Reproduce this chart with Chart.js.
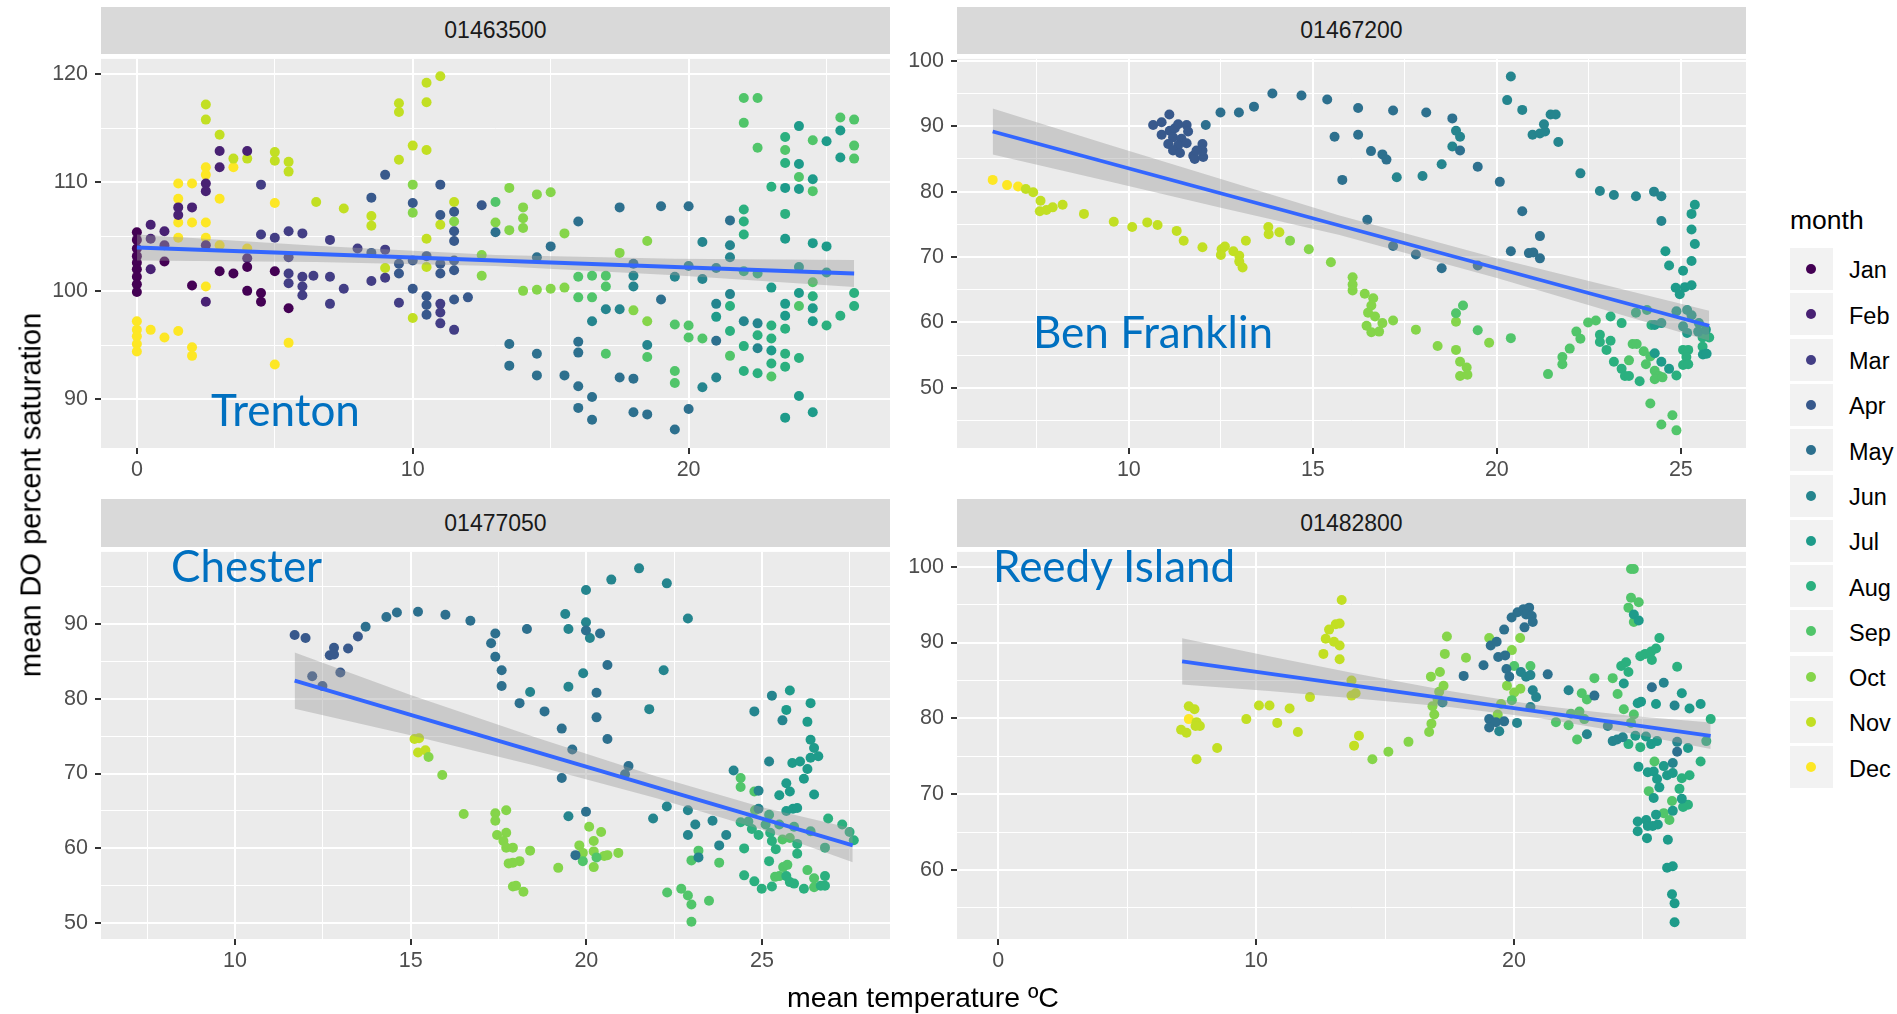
<!DOCTYPE html>
<html>
<head>
<meta charset="utf-8">
<script src="https://cdn.jsdelivr.net/npm/chart.js@4.4.1/dist/chart.umd.min.js"></script>
<style>
  body { margin: 0; background: #fff; font-family: "Liberation Sans", Arial, sans-serif; }
  #page { position: relative; width: 1897px; height: 1014px; overflow: hidden; background: #fff; }
  canvas { position: absolute; }
  .strip { position: absolute; background: #D9D9D9; color: #1A1A1A; font-size: 23px;
           display: flex; align-items: center; justify-content: center; }
  .site { position: absolute; font-family: Lato, sans-serif; font-size: 44px; color: #0070C0;
          line-height: 1; white-space: nowrap; z-index: 5; }
  .title { position: absolute; color: #000; line-height: 1; white-space: nowrap; }
  .key { position: absolute; left: 1790px; width: 43px; height: 42px; background: #F2F2F2; }
  .key i { position: absolute; left: 16px; top: 16px; width: 10px; height: 10px; border-radius: 50%; }
  .keylab { position: absolute; left: 1849px; font-size: 23.5px; line-height: 1; color: #000; }
</style>
</head>
<body>
<div id="page">
  <div class="strip" style="left:101px; top:7px; width:789px; height:47px;">01463500</div>
  <div class="strip" style="left:957px; top:7px; width:789px; height:47px;">01467200</div>
  <div class="strip" style="left:101px; top:499px; width:789px; height:48px;">01477050</div>
  <div class="strip" style="left:957px; top:499px; width:789px; height:48px;">01482800</div>

  <canvas id="trenton" width="874" height="454" style="left:31px; top:39px;"></canvas>
  <canvas id="franklin" width="874" height="454" style="left:887px; top:39px;"></canvas>
  <canvas id="chester" width="874" height="452" style="left:31px; top:532px;"></canvas>
  <canvas id="reedy" width="874" height="452" style="left:887px; top:532px;"></canvas>

  <div class="site" style="left:211px; top:387px;">Trenton</div>
  <div class="site" style="left:1033px; top:309px;">Ben Franklin</div>
  <div class="site" style="left:171px; top:543px;">Chester</div>
  <div class="site" style="left:993px; top:543px;">Reedy Island</div>

  <div class="title" style="left:31px; top:495px; font-size:29px; transform: translate(-50%,-50%) rotate(-90deg);">mean DO percent saturation</div>
  <div class="title" style="left:923px; top:983px; font-size:28.5px; transform: translateX(-50%);">mean temperature ºC</div>

  <div class="title" style="left:1790px; top:207px; font-size:26.5px;">month</div>
  <div id="legend"></div>
</div>

<script>
// month legend
const monthNames = ['Jan', 'Feb', 'Mar', 'Apr', 'May', 'Jun', 'Jul', 'Aug', 'Sep', 'Oct', 'Nov', 'Dec'];
const monthColors = ['#440154', '#482173', '#433E85', '#38598C', '#2D708E', '#25858E',
                     '#1E9B8A', '#2BB07F', '#51C56A', '#85D54A', '#C2DF23', '#FDE725'];

// Trenton (01463500): [temperature, DO %, month]
const trentonPts = [
  [0,105.4,1],[0,104.7,1],[0,103.9,1],[0,103.2,1],[0,102.6,1],[0,102.0,1],[0,101.3,1],[0,100.6,1],[0,99.9,1],
  [0,97.2,12],[0,96.4,12],[0,95.8,12],[0,95.1,12],[0,94.4,12],
  [0.5,106.1,2],[0.5,104.8,2],[0.5,102.0,2],[0.5,96.4,12],
  [1,105.5,2],[1,104.2,2],[1,102.7,1],[1,95.7,12],
  [1.5,107.7,2],[1.5,107.0,2],[1.5,109.9,12],[1.5,108.5,12],[1.5,106.3,12],[1.5,104.9,12],[1.5,96.3,12],
  [2,107.7,2],[2,109.9,12],[2,106.3,12],[2,100.5,1],[2,94.8,12],[2,94.0,12],
  [2.5,117.2,11],[2.5,115.8,11],[2.5,111.4,12],[2.5,110.7,12],[2.5,109.9,2],[2.5,109.2,2],[2.5,106.3,12],
  [2.5,104.9,12],[2.5,104.2,2],[2.5,100.4,12],[2.5,99.0,2],
  [3,114.4,11],[3,112.9,2],[3,111.4,2],[3,108.5,12],[3,104.2,12],[3,101.8,1],
  [3.5,112.2,11],[3.5,111.4,12],[3.5,101.6,1],
  [4,112.9,2],[4,112.2,11],[4,103.9,12],[4,103.0,2],[4,102.2,1],[4,100.0,1],
  [4.5,109.8,3],[4.5,105.2,3],[4.5,99.8,1],[4.5,99.0,1],
  [5,112.8,11],[5,112.0,11],[5,108.1,12],[5,104.9,3],[5,101.8,1],[5,93.2,12],
  [5.5,111.9,11],[5.5,111.0,11],[5.5,105.5,3],[5.5,103.1,3],[5.5,101.6,3],[5.5,100.7,3],[5.5,98.4,1],[5.5,95.2,12],
  [6,105.3,3],[6,101.3,3],[6,100.4,3],[6,99.6,3],[6.4,101.4,3],[6.5,108.2,11],
  [7,104.7,3],[7,101.3,3],[7,98.8,3],[7.5,107.6,11],[7.5,100.2,3],[8,103.9,3],
  [8.5,108.6,4],[8.5,106.9,11],[8.5,106.0,11],[8.5,103.5,4],[8.5,100.9,3],
  [9,110.7,4],[9,103.8,3],[9,102.1,11],[9,101.2,3],
  [9.5,117.3,11],[9.5,116.5,11],[9.5,112.1,11],[9.5,102.5,4],[9.5,101.6,4],[9.5,98.9,3],
  [10,113.4,11],[10,109.8,10],[10,108.1,4],[10,107.2,10],[10,102.8,4],[10,100.2,4],[10,97.5,11],
  [10.5,119.2,11],[10.5,117.4,11],[10.5,113.0,11],[10.5,104.8,11],[10.5,102.2,11],[10.5,103.2,4],
  [10.5,99.5,4],[10.5,98.7,4],[10.5,97.8,4],
  [11,119.8,11],[11,109.8,4],[11,107.0,4],[11,106.1,11],[11,102.5,4],[11,101.6,4],[11,98.8,3],[11,98.0,3],[11,97.0,3],
  [11.5,108.2,11],[11.5,107.3,4],[11.5,106.4,10],[11.5,105.5,4],[11.5,104.6,4],[11.5,102.8,4],[11.5,101.9,4],
  [11.5,99.2,4],[11.5,96.4,3],
  [12,99.4,4],[12.5,107.9,4],[12.5,103.3,10],[12.5,101.4,10],
  [13,108.2,9],[13,106.3,10],[13,105.4,5],
  [13.5,109.5,10],[13.5,105.6,10],[13.5,95.1,5],[13.5,93.1,5],
  [14,107.7,10],[14,106.7,10],[14,105.8,10],[14,100.0,10],
  [14.5,108.9,10],[14.5,103.1,5],[14.5,100.1,10],[14.5,94.2,5],[14.5,92.2,5],
  [15,109.1,10],[15,104.1,5],[15,100.2,10],
  [15.5,105.3,10],[15.5,100.3,10],[15.5,92.2,5],
  [16,106.4,5],[16,101.3,9],[16,99.4,9],[16,95.3,5],[16,94.3,5],[16,91.2,5],[16,89.2,5],
  [16.5,101.4,9],[16.5,99.4,9],[16.5,97.2,6],[16.5,90.2,5],[16.5,88.1,5],
  [17,101.4,9],[17,100.4,9],[17,98.3,6],[17,94.2,9],
  [17.5,107.7,5],[17.5,103.5,10],[17.5,98.3,6],[17.5,92.0,5],
  [18,102.5,5],[18,101.4,6],[18,100.4,6],[18,98.2,10],[18,91.9,5],[18,88.8,5],
  [18.5,104.6,10],[18.5,97.2,10],[18.5,95.0,6],[18.5,93.9,9],[18.5,88.6,5],
  [19,107.8,5],[19,99.2,5],
  [19.5,101.3,6],[19.5,96.9,9],[19.5,92.6,9],[19.5,91.5,9],[19.5,87.2,5],
  [20,107.8,5],[20,102.3,6],[20,96.8,9],[20,95.7,9],[20,89.1,5],
  [20.5,104.5,6],[20.5,101.1,6],[20.5,95.6,9],[20.5,91.1,6],
  [21,102.1,6],[21,98.8,6],[21,97.6,7],[21,95.4,5],[21,92.0,6],
  [21.5,106.5,5],[21.5,104.2,6],[21.5,103.1,6],[21.5,99.7,6],[21.5,98.6,8],[21.5,96.3,8],[21.5,94.0,9],
  [22,117.8,9],[22,115.5,9],[22,107.5,8],[22,106.4,8],[22,105.2,8],[22,101.8,8],[22,97.2,6],[22,94.9,8],[22,92.6,8],
  [22.5,117.8,9],[22.5,113.2,9],[22.5,101.6,8],[22.5,97.0,6],[22.5,95.9,8],[22.5,94.7,6],[22.5,92.4,8],
  [23,109.6,8],[23,100.3,7],[23,96.8,8],[23,95.6,8],[23,94.5,7],[23,93.3,8],[23,92.1,9],
  [23.5,114.2,8],[23.5,113.0,9],[23.5,111.8,8],[23.5,109.5,7],[23.5,107.1,8],[23.5,104.8,7],[23.5,98.8,7],
  [23.5,97.7,7],[23.5,96.5,8],[23.5,94.2,8],[23.5,93.0,8],[23.5,88.3,7],
  [24,115.2,7],[24,111.7,7],[24,110.5,9],[24,109.4,7],[24,102.2,7],[24,99.8,7],[24,98.6,9],[24,93.8,8],[24,90.3,7],
  [24.5,113.9,9],[24.5,110.3,7],[24.5,109.2,9],[24.5,104.4,7],[24.5,100.8,9],[24.5,99.5,8],[24.5,98.4,7],
  [24.5,97.2,7],[24.5,88.8,7],
  [25,113.8,7],[25,104.1,7],[25,101.7,7],[25,96.8,8],
  [25.5,116.0,9],[25.5,114.8,7],[25.5,112.3,7],[25.5,97.7,8],
  [26,115.8,9],[26,113.4,9],[26,112.2,9],[26,99.8,8],[26,98.6,8]
];

// Ben Franklin (01467200)
const franklinPts = [
  [6.3,81.8,12],[6.69,81.0,12],[6.99,80.8,12],[7.2,80.4,11],[7.4,79.9,11],[7.6,78.6,11],[7.58,77.0,11],
  [7.76,77.2,11],[7.93,77.6,11],[8.2,78.0,11],[8.78,76.6,11],[9.59,75.4,11],[10.09,74.6,11],[10.5,75.3,11],
  [10.78,74.9,11],[11.3,74.0,11],[11.49,72.5,11],[12.0,71.5,11],[12.52,71.2,11],[12.5,70.3,11],[12.61,71.6,11],
  [12.84,70.9,11],[13.0,70.2,11],[13.0,69.3,11],[13.09,68.4,11],[13.18,72.5,11],[13.79,74.6,11],[13.8,73.5,11],
  [14.09,73.8,11],[14.38,72.5,10],[14.89,71.2,10],[15.49,69.2,10],[16.08,66.9,10],[16.08,65.8,10],[16.08,64.9,10],
  [10.66,90.2,4],[10.89,90.6,4],[11.1,91.8,4],[10.89,88.7,4],[11.11,89.3,4],[11.25,89.7,4],[11.34,90.3,4],
  [11.57,90.2,4],[11.61,89.2,4],[11.2,88.3,4],[11.43,88.1,4],[11.07,87.3,4],[11.34,87.1,4],[11.57,87.4,4],
  [11.2,86.3,4],[11.39,85.9,4],[11.75,85.5,4],[11.79,85.0,4],[12.02,85.3,4],[12.0,87.3,4],[12.0,86.3,4],[11.84,86.3,4],
  [12.09,90.2,5],[12.49,92.1,5],[12.99,92.1,5],[13.4,93.0,5],[13.9,95.0,5],[14.69,94.7,5],[15.39,94.1,5],
  [16.23,92.8,5],[15.59,88.4,5],[16.23,88.7,5],[15.8,81.8,5],
  [17.18,92.4,5],[18.08,92.1,5],[18.79,91.2,5],[18.89,89.3,6],[19.0,88.4,6],[18.79,86.9,6],[19.0,86.3,5],
  [16.58,86.2,5],[16.89,85.7,5],[17.0,84.9,5],[17.28,82.2,6],[17.98,82.4,6],[18.5,84.2,6],[19.48,83.8,5],[20.08,81.5,5],
  [20.38,97.6,6],[20.28,94.0,6],[20.69,92.5,6],[20.97,88.7,6],[21.17,88.9,6],[21.31,89.2,6],[21.28,90.3,6],
  [21.46,91.8,6],[21.6,91.8,6],[21.67,87.6,6],[22.27,82.8,6],[22.8,80.1,6],[23.18,79.5,6],[23.78,79.3,6],
  [24.27,80.0,6],[24.47,79.3,6],[24.47,75.5,6],[24.58,70.9,7],[24.68,68.7,7],[25.06,67.9,7],[24.86,65.3,7],
  [24.97,64.3,7],[25.11,65.4,7],[25.29,65.7,7],[25.38,78.0,7],[25.29,76.6,7],[25.29,74.2,7],[25.38,72.0,7],[25.29,69.4,7],
  [20.69,77.0,5],[21.17,73.2,5],[20.38,70.9,5],[20.87,70.6,5],[20.99,70.7,5],[21.17,69.8,5],[16.48,75.7,5],
  [17.18,71.7,5],[17.8,70.4,5],[18.5,68.3,5],[19.48,68.7,5],
  [16.41,64.4,10],[16.64,63.7,10],[16.59,62.6,10],[16.5,61.5,10],[16.69,60.9,10],[16.89,59.9,10],[16.46,59.5,10],
  [16.59,58.5,10],[16.8,58.6,10],[17.18,60.3,10],[17.8,58.9,10],[18.39,56.4,10],[18.89,61.4,9],[19.08,62.6,9],
  [18.89,60.1,10],[18.89,55.8,10],[19.0,54.0,10],[19.18,53.1,10],[19.0,51.8,10],[19.2,52.0,10],[19.48,58.8,9],
  [19.79,56.9,10],[20.38,57.6,9],
  [21.39,52.1,9],[21.78,54.7,9],[21.78,53.6,9],[21.98,56.0,9],[22.16,58.6,9],[22.27,57.5,9],[22.48,60.0,9],
  [22.69,60.3,9],[22.8,58.1,8],[22.8,57.0,8],[22.98,55.8,8],[23.09,60.9,8],[23.09,57.2,8],[23.39,59.9,8],
  [23.18,54.0,8],[23.39,52.9,8],[23.48,51.8,8],[23.59,51.8,8],[23.59,54.2,9],[23.69,56.7,9],[23.8,56.7,9],
  [23.78,61.5,8],[23.88,51.0,8],[23.99,55.6,9],[24.08,61.9,8],[24.17,54.8,9],[24.29,55.3,7],[24.2,59.6,8],
  [24.29,59.6,7],[24.47,59.9,7],[24.05,53.6,9],[24.29,52.6,9],[24.41,51.8,9],[24.29,51.3,9],[24.5,51.6,9],
  [24.47,54.0,7],[24.68,52.9,7],[24.88,51.9,8],[24.17,47.6,9],[24.47,44.4,9],[24.77,45.8,9],[24.88,43.5,9],
  [24.88,61.7,7],[25.17,61.9,7],[25.29,61.1,7],[25.06,59.4,7],[25.17,58.4,7],[25.47,58.6,7],[25.59,57.7,8],
  [25.77,57.7,8],[25.06,55.8,8],[25.2,55.8,8],[25.15,54.7,8],[25.06,53.5,8],[25.2,53.6,8],[25.59,56.3,8],
  [25.6,55.1,7],[25.7,55.2,7],[25.68,58.9,7],[25.49,59.9,7]
];

// Chester (01477050)
const chesterPts = [
  [11.7,88.5,4],[12.01,88.1,4],[12.2,83.0,4],[12.49,81.7,4],[12.7,85.8,4],[12.82,86.8,4],[12.82,85.9,4],
  [13.0,83.5,4],[13.22,86.7,4],[13.5,88.3,4],[13.72,89.6,5],[14.31,90.9,5],[14.61,91.5,5],[15.21,91.6,5],
  [15.99,91.2,5],[16.7,90.4,5],[17.41,88.7,5],[17.29,87.4,5],[17.41,85.6,5],[17.59,83.8,5],[17.59,81.7,5],
  [15.11,74.6,11],[15.24,74.7,11],[15.21,72.8,11],[15.42,73.1,11],[15.51,72.2,10],[15.9,69.8,10],[16.51,64.6,10],
  [17.41,64.7,10],[17.41,63.7,10],[17.46,61.8,10],[17.72,65.1,10],[17.72,62.1,10],[17.64,61.0,10],[17.72,60.1,10],
  [17.91,60.1,10],[17.79,58.0,10],[18.1,58.3,10],[17.91,58.1,10],[17.91,54.9,10],[18.0,55.0,10],[18.21,54.2,10],
  [18.4,59.7,10],
  [18.31,89.3,5],[18.4,80.9,6],[18.1,79.4,5],[18.81,78.3,5],[19.4,91.3,6],[19.49,89.3,6],[19.49,81.6,6],
  [19.3,76.0,5],[19.6,73.2,5],[19.3,69.4,5],[19.49,64.3,6],[19.99,94.5,6],[19.99,90.2,6],[19.99,89.1,5],
  [20.1,88.1,6],[20.39,88.7,5],[19.91,83.4,6],[20.29,80.8,5],[20.29,77.5,5],[20.6,84.5,5],[20.6,74.6,5],
  [20.71,95.9,6],[21.5,97.4,6],[22.29,95.4,6],[22.89,90.7,6],[22.2,83.8,6],[21.79,78.6,6],[21.2,71.0,5],
  [21.1,69.9,5],[19.99,64.9,5],[19.69,59.1,5],
  [19.8,60.4,10],[19.9,59.4,10],[19.9,58.3,9],[20.08,62.9,10],[20.21,61.0,10],[20.21,59.6,10],[20.21,57.5,10],
  [20.42,62.2,10],[20.29,58.8,9],[20.51,59.0,10],[20.6,59.1,10],[20.91,59.4,10],[19.2,57.4,10],
  [21.9,64.0,6],[22.29,65.6,6],[22.89,65.1,6],[22.89,61.8,6],[23.1,63.2,6],[23.19,58.8,6],[22.99,58.4,9],
  [23.19,59.7,9],[23.59,63.7,6],[23.78,60.4,6],[23.98,61.8,6],[23.78,58.1,9],[22.3,54.1,9],[22.7,54.6,9],
  [22.89,53.7,9],[22.99,52.5,9],[22.99,50.2,9],[23.49,53.0,9],
  [24.19,70.4,6],[24.39,69.4,9],[24.39,68.2,9],[24.78,67.6,9],[24.9,67.7,6],[24.78,78.3,6],[25.28,80.4,6],
  [25.79,81.1,7],[25.69,78.5,7],[25.58,77.1,6],[26.38,79.4,7],[26.29,76.9,7],[26.38,74.5,7],[26.48,73.4,7],
  [26.38,72.1,7],[26.6,72.3,7],[25.86,71.4,7],[26.08,71.6,7],[26.29,70.6,7],[26.19,69.3,7],[25.2,71.6,6],
  [25.69,68.7,7],[25.79,67.6,7],[25.49,67.1,7],[26.48,67.2,7],[25.69,65.0,7],[25.88,65.3,7],[26.0,65.4,7],
  [24.9,65.3,6],[24.39,63.5,8],[24.61,63.6,8],[24.8,65.1,9],[25.2,64.5,8],[25.1,63.2,8],[24.71,62.6,8],
  [24.9,61.8,8],[25.23,62.1,8],[25.28,61.0,8],[25.39,59.9,8],[25.58,61.2,9],[25.79,61.4,9],[25.91,62.9,8],
  [26.0,60.6,8],[26.0,59.3,8],[25.49,63.2,8],[24.49,60.0,8],[25.2,58.3,8],[25.6,57.5,9],[25.72,57.8,9],
  [25.69,56.3,8],[25.79,55.5,8],[25.91,55.3,8],[25.37,56.2,9],[25.49,56.3,9],[24.49,56.4,8],[24.78,55.6,8],
  [24.99,54.6,8],[25.28,54.9,8],[26.19,54.6,8],[26.29,57.1,9],[26.48,56.0,9],[26.48,54.8,9],[26.79,56.3,8],
  [26.79,55.0,8],[26.67,55.0,8],[26.88,64.0,8],[27.28,63.2,8],[27.49,62.2,8],[27.61,61.1,8],[26.79,60.1,8],
  [26.38,62.3,8]
];

// Reedy Island (01482800)
const reedyPts = [
  [7.39,81.6,11],[7.61,81.2,11],[7.39,79.9,12],[7.69,79.5,11],[7.82,79.0,11],[7.65,79.0,11],[7.09,78.5,11],
  [7.3,78.1,11],[8.49,76.1,11],[7.69,74.6,11],[9.62,79.9,11],[10.11,81.7,11],[10.52,81.7,11],[10.82,79.4,11],
  [11.3,81.3,11],[11.62,78.2,11],[12.09,82.8,11],[12.61,88.5,11],[12.7,90.5,11],[12.83,91.7,11],[13.09,92.4,11],
  [13.24,92.5,11],[13.02,90.1,11],[13.24,89.6,11],[13.24,87.8,11],[13.32,95.6,11],[13.7,85.0,11],[13.7,83.0,11],
  [13.86,83.3,11],[13.99,77.7,11],[13.8,76.4,11],
  [14.51,74.6,10],[15.13,75.6,10],[15.91,76.9,10],[16.71,78.2,10],[16.8,79.3,10],[16.91,80.5,10],[16.84,81.6,10],
  [17.04,82.5,10],[17.1,83.5,10],[17.27,84.3,10],[16.78,85.5,10],[17.13,86.1,10],[17.32,88.5,10],[17.4,90.8,10],
  [18.14,88.0,10],[18.05,85.6,5],[17.23,82.1,6],[18.82,87.0,5],[19.04,90.6,10],[19.1,89.6,5],[19.33,90.1,5],
  [19.62,91.7,5],[19.39,88.1,5],[19.66,88.3,5],[19.71,86.5,5],[19.82,85.5,5],[19.92,89.0,10],[19.73,84.3,10],
  [20.01,83.4,10],[19.92,82.4,9],[20.25,83.9,10],[20.24,90.6,10],
  [19.91,93.3,5],[20.14,94.0,5],[20.37,94.4,5],[20.59,94.6,5],[20.47,93.7,5],[20.69,93.5,5],[20.73,92.7,5],[20.41,92.0,5],
  [20.01,86.9,9],[20.27,86.1,6],[20.47,85.5,6],[20.64,86.9,9],[20.64,85.7,6],[20.73,83.7,6],[20.86,82.8,6],
  [20.64,81.5,6],[21.31,85.8,5],
  [19.04,79.9,5],[19.3,79.5,5],[19.62,79.6,5],[19.04,78.8,5],[19.43,78.3,6],[20.12,79.4,6],[19.37,80.5,10],[19.5,81.9,10],
  [21.63,79.5,9],[22.12,83.7,6],[22.12,79.1,9],[22.63,83.3,9],[22.83,82.5,9],[23.12,85.3,9],[23.12,83.0,5],
  [22.45,77.2,9],[22.83,77.9,6],[22.21,80.6,9],[22.54,80.9,9],[22.73,79.9,9],[23.64,79.0,6],[23.83,77.0,6],
  [24.0,77.2,6],[24.22,77.5,6],[23.83,85.3,9],[24.02,83.2,9],[24.26,84.6,7],[24.26,81.2,9],[24.16,86.9,8],
  [24.35,87.4,8],[24.44,86.1,8],[24.44,76.6,8],
  [24.54,99.7,9],[24.65,99.7,9],[24.54,95.9,9],[24.84,95.3,9],[24.44,94.6,9],[24.65,93.7,7],[24.84,92.9,7],
  [24.65,92.7,9],[24.65,80.5,9],[24.54,79.4,9],[24.8,82.0,7],[24.93,82.2,7],
  [24.9,88.2,8],[25.09,88.5,8],[25.32,88.8,8],[25.51,89.2,8],[25.64,90.6,8],[25.35,87.7,8],[25.35,84.1,5],
  [25.81,84.7,6],[25.51,81.9,7],[26.33,86.8,8],[26.51,83.3,7],[26.23,81.7,6],[26.81,81.3,7],[27.24,81.9,7],
  [27.63,79.9,8],[27.46,77.0,8],[26.75,76.1,7],[26.33,76.9,6],[26.33,75.6,5],
  [24.71,77.7,7],[24.9,76.2,8],[25.12,77.6,7],[25.32,76.6,7],[25.55,77.0,7],[27.24,74.3,8],[25.45,74.3,9],
  [24.83,73.6,7],[25.19,72.9,7],[25.42,73.0,7],[25.55,72.0,7],[25.64,70.9,7],[25.81,73.7,7],[25.94,72.5,7],
  [26.16,72.8,7],[26.16,74.1,6],[26.51,72.1,8],[26.81,72.5,8],[26.42,70.7,8],[26.51,69.4,7],[26.75,68.6,8],
  [26.56,68.3,8],[25.23,70.4,9],[25.42,69.5,7],[26.13,69.1,9],[26.16,67.8,7],[25.81,67.5,9],[26.03,66.6,9],
  [24.8,66.4,7],[24.8,65.1,7],[25.13,66.6,7],[25.19,65.8,7],[25.51,67.3,7],[25.58,66.0,7],[25.16,64.2,7],
  [25.38,65.8,7],[25.97,64.0,7],[25.94,60.3,7],[26.16,60.5,7],[26.13,56.8,7],[26.23,55.6,7],[26.23,53.1,7]
];

// linear fits and their confidence bands
const trentonFitX = [0, 26];
const trentonFitY = [104.0, 101.6];
const trentonBandX = [0, 6.5, 13, 19.5, 26];
const trentonBandLo = [102.8, 102.65, 102.3, 101.45, 100.35];
const trentonBandHi = [105.2, 104.15, 103.3, 102.95, 102.85];

const franklinFitX = [6.3, 25.77];
const franklinFitY = [89.2, 59.5];
const franklinBandX = [6.3, 9.5, 12.5, 15.7, 20, 25.77];
const franklinBandLo = [85.7, 81.5, 77.55, 73.4, 66.8, 57.2];
const franklinBandHi = [92.7, 87.1, 81.95, 76.4, 69.8, 61.8];

const chesterFitX = [11.7, 27.58];
const chesterFitY = [82.4, 60.4];
const chesterBandX = [11.7, 15, 18.5, 22, 25, 27.58];
const chesterBandLo = [78.65, 75.1, 71.1, 66.7, 62.5, 58.15];
const chesterBandHi = [86.15, 80.5, 74.9, 69.6, 65.5, 62.65];

const reedyFitX = [7.13, 27.63];
const reedyFitY = [87.5, 77.7];
const reedyBandX = [7.13, 10.5, 14, 17.5, 21, 24.5, 27.63];
const reedyBandLo = [84.45, 83.6, 82.6, 81.5, 80.0, 78.05, 75.95];
const reedyBandHi = [90.55, 88.2, 85.8, 83.6, 81.7, 80.35, 79.45];

// axis ranges and ticks
const trentonXRange = [-1.3, 27.3], trentonYRange = [85.5, 121.4];
const trentonXMajor = [0, 10, 20], trentonXMinor = [5, 15, 25];
const trentonYMajor = [90, 100, 110, 120], trentonYMinor = [95, 105, 115];

const franklinXRange = [5.33, 26.77], franklinYRange = [40.8, 100.3];
const franklinXMajor = [10, 15, 20, 25], franklinXMinor = [7.5, 12.5, 17.5, 22.5];
const franklinYMajor = [50, 60, 70, 80, 90, 100], franklinYMinor = [45, 55, 65, 75, 85, 95];

const chesterXRange = [6.19, 28.64], chesterYRange = [47.9, 99.6];
const chesterXMajor = [10, 15, 20, 25], chesterXMinor = [7.5, 12.5, 17.5, 22.5, 27.5];
const chesterYMajor = [50, 60, 70, 80, 90], chesterYMinor = [55, 65, 75, 85, 95];

const reedyXRange = [-1.6, 29.0], reedyYRange = [50.9, 101.95];
const reedyXMajor = [0, 10, 20], reedyXMinor = [5, 15, 25];
const reedyYMajor = [60, 70, 80, 90, 100], reedyYMinor = [55, 65, 75, 85, 95];

// legend keys
const legendEl = document.getElementById('legend');
monthNames.forEach((name, i) => {
  const top = 248 + i * 45.3;
  const key = document.createElement('div');
  key.className = 'key';
  key.style.top = top + 'px';
  key.innerHTML = '<i style="background:' + monthColors[i] + '"></i>';
  legendEl.appendChild(key);
  const lab = document.createElement('div');
  lab.className = 'keylab';
  lab.style.top = (top + 11.4) + 'px';
  lab.textContent = name;
  legendEl.appendChild(lab);
});

const panelBg = {
  id: 'panelBg',
  beforeDraw(chart) {
    const a = chart.chartArea;
    const ctx = chart.ctx;
    ctx.save();
    ctx.fillStyle = '#EBEBEB';
    ctx.fillRect(a.left, a.top, a.right - a.left, a.bottom - a.top);
    ctx.restore();
  }
};

function makeAxis(range, major, minor, isX) {
  const all = major.concat(minor).sort((a, b) => a - b);
  return {
    type: 'linear',
    position: isX ? 'bottom' : 'left',
    min: range[0],
    max: range[1],
    afterBuildTicks: scale => { scale.ticks = all.map(v => ({ value: v })); },
    afterFit: scale => { if (isX) scale.height = 45; else scale.width = 70; },
    border: { display: false },
    grid: {
      color: '#FFFFFF',
      lineWidth: c => major.includes(c.tick.value) ? 2 : 1,
      tickColor: c => major.includes(c.tick.value) ? '#333333' : 'rgba(0,0,0,0)',
      tickLength: 6,
      tickWidth: 2
    },
    ticks: {
      autoSkip: false,
      maxRotation: 0,
      padding: isX ? 3 : 7,
      color: '#4D4D4D',
      font: { family: 'Liberation Sans', size: 21.5 },
      callback: v => major.includes(v) ? String(v) : ''
    }
  };
}

function makePanel(id, pts, fitX, fitY, bandX, bandLo, bandHi, xRange, yRange, xMajor, xMinor, yMajor, yMinor) {
  const pointSets = monthNames.map((name, i) => ({
    type: 'scatter',
    label: name,
    data: pts.filter(p => p[2] === i + 1).map(p => ({ x: p[0], y: p[1] })),
    backgroundColor: monthColors[i],
    borderWidth: 0,
    pointRadius: 5,
    pointHoverRadius: 5,
    order: 3
  }));
  const band = [
    {
      type: 'line', label: 'upper',
      data: bandX.map((x, i) => ({ x: x, y: bandHi[i] })),
      fill: '+1', backgroundColor: 'rgba(153,153,153,0.4)',
      borderWidth: 0, pointRadius: 0, tension: 0, order: 2
    },
    {
      type: 'line', label: 'lower',
      data: bandX.map((x, i) => ({ x: x, y: bandLo[i] })),
      fill: false, borderWidth: 0, pointRadius: 0, tension: 0, order: 2
    },
    {
      type: 'line', label: 'fit',
      data: fitX.map((x, i) => ({ x: x, y: fitY[i] })),
      borderColor: '#3366FF', borderWidth: 3.8, pointRadius: 0, fill: false, tension: 0, order: 1
    }
  ];

  new Chart(document.getElementById(id), {
    type: 'scatter',
    data: { datasets: pointSets.concat(band) },
    options: {
      responsive: false,
      animation: false,
      events: [],
      layout: { padding: { top: 15, right: 15, left: 0, bottom: 0 } },
      scales: {
        x: makeAxis(xRange, xMajor, xMinor, true),
        y: makeAxis(yRange, yMajor, yMinor, false)
      },
      plugins: {
        legend: { display: false },
        tooltip: { enabled: false }
      }
    },
    plugins: [panelBg]
  });
}

makePanel('trenton', trentonPts, trentonFitX, trentonFitY, trentonBandX, trentonBandLo, trentonBandHi,
  trentonXRange, trentonYRange, trentonXMajor, trentonXMinor, trentonYMajor, trentonYMinor);
makePanel('franklin', franklinPts, franklinFitX, franklinFitY, franklinBandX, franklinBandLo, franklinBandHi,
  franklinXRange, franklinYRange, franklinXMajor, franklinXMinor, franklinYMajor, franklinYMinor);
makePanel('chester', chesterPts, chesterFitX, chesterFitY, chesterBandX, chesterBandLo, chesterBandHi,
  chesterXRange, chesterYRange, chesterXMajor, chesterXMinor, chesterYMajor, chesterYMinor);
makePanel('reedy', reedyPts, reedyFitX, reedyFitY, reedyBandX, reedyBandLo, reedyBandHi,
  reedyXRange, reedyYRange, reedyXMajor, reedyXMinor, reedyYMajor, reedyYMinor);
</script>
</body>
</html>
